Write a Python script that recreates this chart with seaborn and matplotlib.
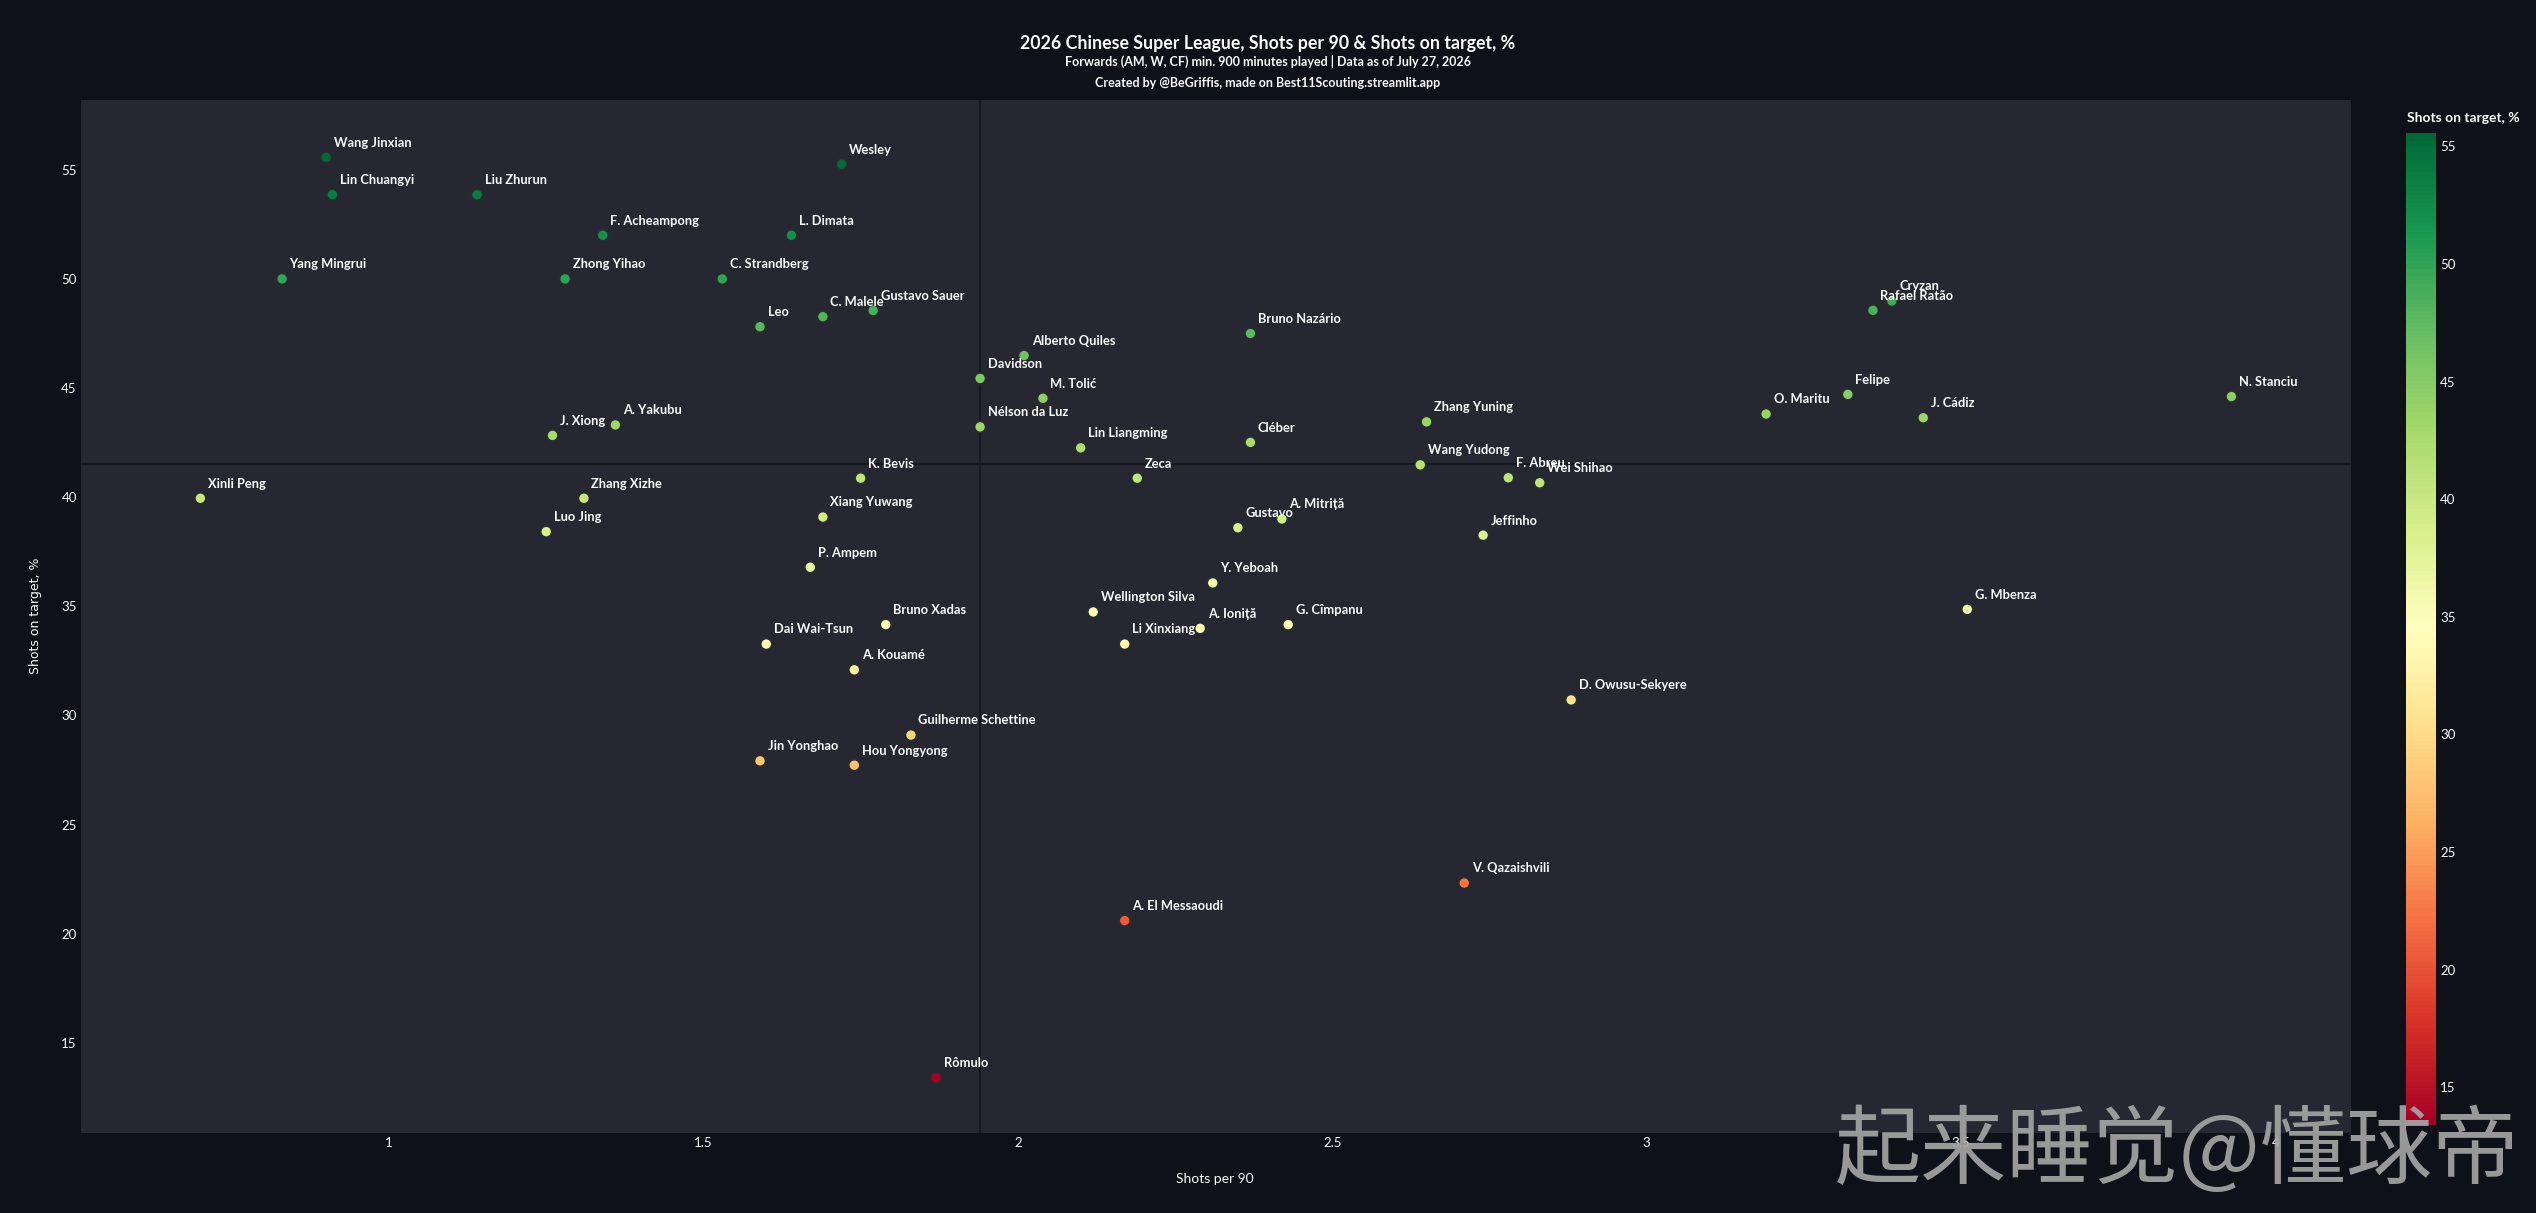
import numpy as np
import pandas as pd
import matplotlib
matplotlib.use("Agg")
import matplotlib.pyplot as plt
import seaborn as sns

# Data
names = ["Wang Jinxian", "Wesley", "Lin Chuangyi", "Liu Zhurun", "F. Acheampong", "L. Dimata",
         "Yang Mingrui", "Zhong Yihao", "C. Strandberg", "Leo", "C. Malele", "Gustavo Sauer",
         "Alberto Quiles", "Davidson", "M. Tolić", "Cryzan", "Rafael Ratão", "Bruno Nazário",
         "Felipe", "N. Stanciu", "A. Yakubu", "J. Xiong", "Nélson da Luz", "Lin Liangming",
         "Cléber", "K. Bevis", "Zeca", "Xinli Peng", "Zhang Xizhe", "Luo Jing", "Xiang Yuwang",
         "Gustavo", "P. Ampem", "Y. Yeboah", "Wellington Silva", "Bruno Xadas", "A. Ioniță",
         "Li Xinxiang", "Dai Wai-Tsun", "A. Kouamé", "Guilherme Schettine", "Jin Yonghao",
         "Hou Yongyong", "Zhang Yuning", "O. Maritu", "J. Cádiz", "Wang Yudong", "F. Abreu",
         "Wei Shihao", "A. Mitriță", "Jeffinho", "G. Cîmpanu", "G. Mbenza", "D. Owusu-Sekyere",
         "A. El Messaoudi", "Rômulo", "V. Qazaishvili"]
shots_p90 = [0.90, 1.72, 0.91, 1.14, 1.34, 1.64,
             0.83, 1.28, 1.53, 1.59, 1.69, 1.77,
             2.01, 1.94, 2.04, 3.39, 3.36, 2.37,
             3.32, 3.93, 1.36, 1.26, 1.94, 2.10,
             2.37, 1.75, 2.19, 0.70, 1.31, 1.25, 1.69,
             2.35, 1.67, 2.31, 2.12, 1.79, 2.29,
             2.17, 1.60, 1.74, 1.83, 1.59,
             1.74, 2.65, 3.19, 3.44, 2.64, 2.78,
             2.83, 2.42, 2.74, 2.43, 3.51, 2.88,
             2.17, 1.87, 2.71]
sot_pct = [55.57, 55.26, 53.86, 53.86, 52.00, 52.00,
           50.00, 50.00, 50.00, 47.81, 48.27, 48.55,
           46.49, 45.44, 44.53, 48.99, 48.56, 47.50,
           44.71, 44.61, 43.31, 42.83, 43.22, 42.26,
           42.51, 40.87, 40.87, 39.95, 39.95, 38.42, 39.09,
           38.60, 36.79, 36.07, 34.74, 34.16, 33.99,
           33.27, 33.27, 32.09, 29.10, 27.92,
           27.72, 43.45, 43.81, 43.64, 41.48, 40.89,
           40.66, 39.00, 38.26, 34.16, 34.86, 30.71,
           20.60, 13.39, 22.32]
ref_x = 1.94
ref_y = 41.5
cbar_ticks = [15, 20, 25, 30, 35, 40, 45, 50, 55]

df = pd.DataFrame({"player": names, "shots": shots_p90, "sot": sot_pct})

fig_bg = "#0e1117"
ax_bg = "#262730"
txt = "#fafafa"

sns.set_style("dark")
plt.rcParams["font.family"] = ["Lato", "DejaVu Sans"]

fig = plt.figure(figsize=(25.36, 12.13), dpi=100, facecolor=fig_bg)
ax = fig.add_axes([0.0319, 0.0660, 0.8951, 0.8516])
ax.set_facecolor(ax_bg)

vmin, vmax = min(sot_pct), max(sot_pct)
cmap = plt.get_cmap("RdYlGn")

# median reference lines
ax.axvline(ref_x, color="#15171d", lw=1.2, zorder=1)
ax.axhline(ref_y, color="#15171d", lw=1.2, zorder=1)

sns.scatterplot(data=df, x="shots", y="sot", hue="sot", palette=cmap, hue_norm=(vmin, vmax),
                s=60, edgecolor="#25302c", linewidth=1, legend=False, ax=ax, zorder=3)

for _, r in df.iterrows():
    ax.annotate(r["player"], (r["shots"], r["sot"]), xytext=(5.4, 10.5), textcoords="offset points",
                ha="left", va="center", color=txt, fontsize=9.3, fontweight="bold", zorder=4)

ax.set_xlim(0.51, 4.12)
ax.set_ylim(10.87, 58.2)
ax.set_xticks([1, 1.5, 2, 2.5, 3, 3.5, 4])
ax.set_xticklabels(["1", "1.5", "2", "2.5", "3", "3.5", "4"])
ax.set_yticks([15, 20, 25, 30, 35, 40, 45, 50, 55])
ax.tick_params(colors=txt, labelsize=9.5, length=0, pad=3)
ax.grid(False)
for sp in ax.spines.values():
    sp.set_visible(False)
ax.set_xlabel("")
ax.set_ylabel("")

fig.text(1215 / 2536, 1 - 1179 / 1213, "Shots per 90", color=txt, fontsize=10,
         ha="center", va="center")
fig.text(36 / 2536, 1 - 616 / 1213, "Shots on target, %", color=txt, fontsize=9,
         rotation=90, ha="center", va="center", family="DejaVu Sans")

# colorbar
cax = fig.add_axes([2406 / 2536, 1 - 1125 / 1213, 30 / 2536, 992 / 1213])
sm = plt.cm.ScalarMappable(cmap=cmap, norm=plt.Normalize(vmin, vmax))
cb = fig.colorbar(sm, cax=cax)
cb.outline.set_visible(False)
cb.set_ticks(cbar_ticks)
cb.ax.tick_params(colors=txt, labelsize=9.5, length=0, pad=3)
fig.text(2407 / 2536, 1 - 118 / 1213, "Shots on target, %", color=txt, fontsize=10,
         ha="left", va="center", fontweight="bold")

# titles
fig.text(0.5, 1 - 44 / 1213, "2026 Chinese Super League, Shots per 90 & Shots on target, %",
         color=txt, fontsize=12.8, ha="center", va="center", fontweight="bold")
fig.text(0.5, 1 - 61 / 1213, "Forwards (AM, W, CF) min. 900 minutes played | Data as of July 27, 2026",
         color=txt, fontsize=9, ha="center", va="center", fontweight="bold")
fig.text(0.5, 1 - 83 / 1213, "Created by @BeGriffis, made on Best11Scouting.streamlit.app",
         color=txt, fontsize=9, ha="center", va="center", fontweight="bold")

# watermark
fig.text(2519 / 2536, 1 - 1153 / 1213, "起来睡觉@懂球帝", color="#a8a8a8", alpha=0.9,
         fontsize=62, ha="right", va="center", family=["Noto Sans CJK SC", "DejaVu Sans"],
         zorder=10)

fig.savefig("out.png", dpi=100, facecolor=fig_bg)
